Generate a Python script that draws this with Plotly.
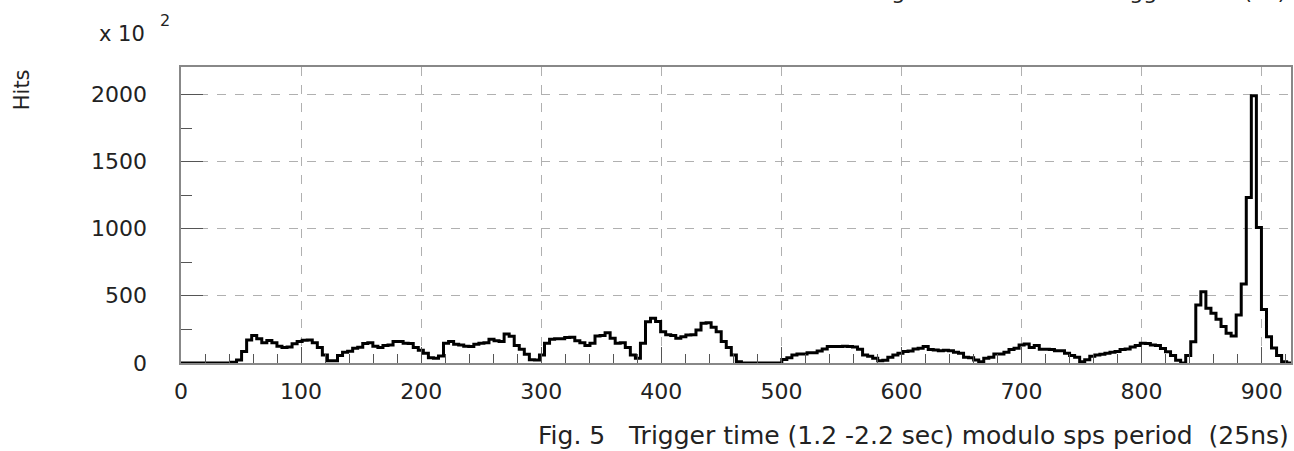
import plotly.graph_objects as go

# ---- data (hits, in units of 10^2) ----
X_MIN = 0
X_MAX = 925
N_BINS = 220
hits = [
    0, 0, 0, 0, 0, 0, 0, 0, 0, 0,
    5, 22, 85, 171, 205, 180, 150, 167, 150, 125,
    115, 120, 144, 160, 170, 172, 151, 115, 60, 17,
    17, 55, 80, 88, 110, 118, 145, 151, 125, 115,
    130, 135, 160, 160, 147, 145, 115, 95, 72, 40,
    35, 52, 147, 160, 140, 134, 125, 122, 140, 147,
    150, 176, 165, 160, 216, 200, 130, 102, 65, 25,
    22, 60, 147, 176, 180, 180, 190, 191, 165, 150,
    130, 147, 201, 205, 226, 184, 147, 151, 115, 60,
    35, 147, 308, 333, 310, 233, 210, 205, 184, 195,
    208, 210, 246, 296, 300, 266, 233, 160, 115, 60,
    10, 0, 0, 0, 0, 0, 0, 0, 0, 27,
    40, 60, 67, 67, 77, 77, 89, 105, 122, 122,
    122, 125, 122, 120, 102, 60, 50, 35, 17, 20,
    42, 60, 72, 85, 89, 105, 110, 122, 100, 97,
    92, 95, 92, 80, 72, 42, 40, 22, 10, 35,
    42, 67, 67, 80, 100, 110, 134, 141, 115, 130,
    102, 102, 100, 92, 92, 72, 55, 42, 10, 25,
    50, 60, 65, 72, 80, 85, 100, 105, 120, 130,
    147, 145, 134, 130, 108, 84, 56, 20, 0, 56,
    159, 432, 531, 408, 370, 326, 271, 221, 201, 358,
    589, 1232, 1990, 1010, 398, 195, 111, 56, 10, 0,
]
x_ticks = [0, 100, 200, 300, 400, 500, 600, 700, 800, 900]
y_ticks = [0, 500, 1000, 1500, 2000]

x_title = "Fig. 5   Trigger time (1.2 -2.2 sec) modulo sps period  (25ns)"
y_title = "Hits"

bw = (X_MAX - X_MIN) / N_BINS
edges = [X_MIN + i * bw for i in range(N_BINS + 1)]
ys = hits + [hits[-1]]

FONT = "DejaVu Sans"
fig = go.Figure()
fig.add_trace(go.Scatter(
    x=edges, y=ys, mode="lines", line=dict(shape="hv", color="black", width=3),
    showlegend=False, hoverinfo="skip"))

fig.update_layout(
    width=1294, height=451,
    margin=dict(l=181, r=1, t=67, b=88),
    paper_bgcolor="white", plot_bgcolor="white",
    font=dict(family=FONT, size=21, color="#222"),
)
fig.update_xaxes(
    range=[0, 924.4], tickvals=x_ticks, ticktext=[str(v) for v in x_ticks],
    showgrid=True, gridcolor="#b0b0b0", griddash="dash", gridwidth=1,
    ticks="inside", ticklen=16, tickcolor="#555", tickwidth=1,
    minor=dict(ticks="inside", ticklen=9, dtick=20, tick0=0, tickcolor="#555", showgrid=False),
    showline=True, linecolor="#888", linewidth=1.5, mirror=True,
    zeroline=False, ticklabelstandoff=8,
    tickfont=dict(family=FONT, size=22, color="#222"),
)
fig.update_yaxes(
    range=[0, 2205], tickvals=y_ticks, showticklabels=False,
    showgrid=True, gridcolor="#b0b0b0", griddash="dash", gridwidth=1,
    ticks="inside", ticklen=22, tickcolor="#555", tickwidth=1,
    minor=dict(ticks="inside", ticklen=11, dtick=250, tick0=0, tickcolor="#555", showgrid=False),
    showline=True, linecolor="#888", linewidth=1.5, mirror=True,
    zeroline=False,
)

def px_x(p):
    return (p - 181) / 1111.7

def px_y(p):
    return (363 - p) / 296.0

# y tick labels placed at their data values on the y axis
for v in y_ticks:
    fig.add_annotation(text=str(v), xref="paper", yref="y", x=px_x(149), y=v,
                       xanchor="right", yanchor="middle", showarrow=False,
                       font=dict(family=FONT, size=22, color="#222"))

ann = [
    dict(text=x_title, x=1.0, y=0, xanchor="right", yanchor="top", yshift=-56, size=25),
    dict(text="x 10", x=px_x(122), y=px_y(34), xanchor="center", yanchor="middle", size=21),
    dict(text="2", x=px_x(165), y=px_y(21), xanchor="center", yanchor="middle", size=16),
    dict(text="Fig. 4", x=px_x(905), y=px_y(6), xanchor="center", yanchor="bottom", size=22),
    dict(text="Trigger time (ns)", x=px_x(1290), y=px_y(6), xanchor="right", yanchor="bottom", size=22),
]
for a in ann:
    fig.add_annotation(text=a["text"], xref="paper", yref="paper", x=a["x"], y=a["y"],
                       xanchor=a["xanchor"], yanchor=a["yanchor"], yshift=a.get("yshift", 0),
                       showarrow=False, font=dict(family=FONT, size=a["size"], color="#222"))
fig.add_annotation(text=y_title, xref="paper", yref="paper", x=px_x(22), y=px_y(90),
                   xanchor="center", yanchor="middle", textangle=-90, showarrow=False,
                   font=dict(family=FONT, size=21, color="#222"))

fig.write_html("out.html", config={"displayModeBar": False},
               post_script="document.body.style.margin='0px';document.body.style.overflow='hidden';")
